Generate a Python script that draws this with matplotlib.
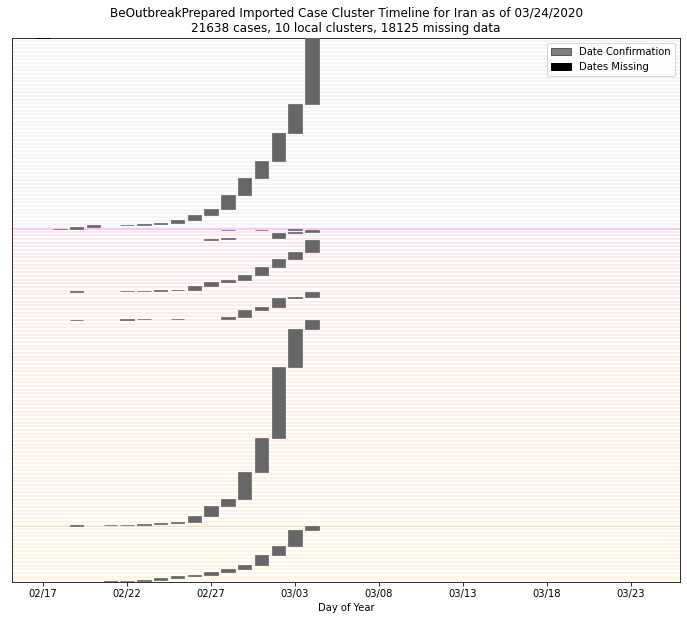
import numpy as np
import pandas as pd
import matplotlib
matplotlib.use('Agg')
import matplotlib.pyplot as plt
import matplotlib.dates as mdates
from matplotlib.patches import Patch
from matplotlib.colors import LinearSegmentedColormap

# daily new cases per local cluster (bottom to top)
a_days = ['02/19', '02/21', '02/22', '02/23', '02/24', '02/25', '02/26', '02/27', '02/28', '02/29', '03/01', '03/02', '03/03', '03/04']
a_counts = [3, 3, 3, 4, 13, 13, 9, 19, 19, 26, 65, 54, 103, 28]

b_days = ['02/19', '02/21', '02/22', '02/23', '02/24', '02/25', '02/26', '02/27', '02/28', '02/29', '03/01', '03/02', '03/03', '03/04']
b_counts = [3, 3, 3, 5, 6, 6, 39, 65, 45, 174, 220, 459, 245, 58]

c_days = ['02/19', '02/22', '02/23', '02/25', '02/28', '02/29', '03/01', '03/02', '03/03', '03/04']
c_counts = [2, 1, 1, 2, 13, 45, 19, 58, 6, 34]

d_days = ['02/19', '02/22', '02/23', '02/24', '02/25', '02/26', '02/27', '02/28', '02/29', '03/01', '03/02', '03/03', '03/04']
d_counts = [2, 3, 2, 2, 5, 26, 26, 13, 32, 52, 52, 39, 78]

e_days = ['02/27', '02/28', '03/02', '03/03']
e_counts = [10, 6, 29, 7]

f_days = ['03/04']
f_counts = [12]

g_days = ['02/28']
g_counts = [3]

h_days = ['03/01']
h_counts = [2]

i_days = ['03/03']
i_counts = [3]

# cases not in a local cluster (top block)
t_days = ['02/18', '02/19', '02/20', '02/22', '02/23', '02/24', '02/25', '02/26', '02/27', '02/28', '02/29', '03/01', '03/02', '03/03', '03/04']
t_counts = [3, 13, 10, 3, 3, 6, 19, 32, 39, 90, 110, 110, 181, 187, 429]

missing_day = '02/17'
missing_count = 18125
total_cases = 21638
n_clusters = 10

tick_days = ['02/17', '02/22', '02/27', '03/03', '03/08', '03/13', '03/18', '03/23']


def to_date(s):
    return mdates.date2num(pd.Timestamp('2020/' + s))


local = [(a_days, a_counts), (b_days, b_counts), (c_days, c_counts), (d_days, d_counts),
         (e_days, e_counts), (f_days, f_counts), (g_days, g_counts), (h_days, h_counts),
         (i_days, i_counts)]

fig = plt.figure(figsize=(687 / 72, 620 / 72), dpi=72)
ax = fig.add_axes([12 / 687, 1 - 582 / 620, 668 / 687, 544 / 620])

bar_color = '#666666'
start = 0
for days, counts in local + [(t_days, t_counts)]:
    counts = np.array(counts)
    bottoms = start + np.cumsum(counts) - counts
    ax.bar([to_date(d) for d in days], counts, bottom=bottoms, width=0.8,
           color=bar_color, edgecolor='#6e6e6e', linewidth=0.8, zorder=3)
    start += counts.sum()
dated_total = start
local_total = sum(sum(c) for _, c in local)

# missing-date block sits above all dated cases
ax.bar(to_date(missing_day), missing_count, bottom=dated_total, width=0.8,
       color='black', edgecolor='black', linewidth=1.5, zorder=3)

x0 = to_date('02/17') - 1.85
x1 = to_date('02/17') + 37.92

# background stripes: clusters shaded pink -> yellow, the rest light gray
cmap = LinearSegmentedColormap.from_list('bg', ['#fcf6e3', '#fcf2e6', '#fcefea', '#fce8ee'])
ys = np.arange(10, dated_total, 23.7)
cols = [cmap(y / local_total) if y < local_total else '#f4f4f4' for y in ys]
ax.hlines(ys, x0, x1, colors=cols, linewidth=2, zorder=0)
ax.axhline(local_total, color='#ffb8ff', linewidth=1.5, zorder=1)
ax.axhline(sum(a_counts), color='#f3dcc4', linewidth=1, zorder=1)

ax.set_xlim(x0, x1)
ax.set_ylim(0, dated_total)
ax.set_yticks([])
ax.set_xticks([to_date(d) for d in tick_days])
ax.xaxis.set_major_formatter(mdates.DateFormatter('%m/%d'))
ax.tick_params(axis='x', labelsize=10)
ax.set_xlabel('Day of Year', fontsize=10)
ax.set_title('BeOutbreakPrepared Imported Case Cluster Timeline for Iran as of 03/24/2020\n'
             f'{total_cases} cases, {n_clusters} local clusters, {missing_count} missing data',
             fontsize=12)

handles = [Patch(facecolor='#808080', edgecolor='#5a5a5a', label='Date Confirmation'),
           Patch(facecolor='black', edgecolor='black', label='Dates Missing')]
ax.legend(handles=handles, loc='upper right', fontsize=10)

fig.savefig('out.png', dpi=72)
